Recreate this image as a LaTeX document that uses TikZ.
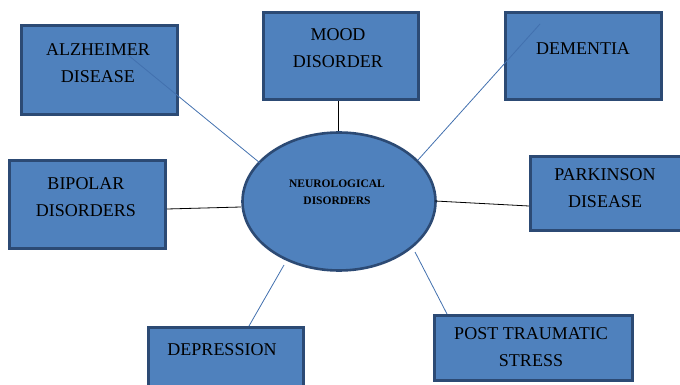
\documentclass[tikz,border=0pt]{standalone}
\usepackage{fontspec}
\setmainfont{Liberation Serif}
\usetikzlibrary{shapes.geometric}
\definecolor{boxfill}{RGB}{79,129,189}
\definecolor{boxline}{RGB}{44,74,116}
\definecolor{linkblue}{RGB}{66,112,174}
\begin{document}
\begin{tikzpicture}[x=1pt,y=-1pt,
  box/.style={draw=boxline, fill=boxfill, line width=2.6pt, rectangle, inner sep=0pt},
  hub/.style={draw=boxline, fill=boxfill, line width=2.6pt, ellipse, inner sep=0pt},
  lbl/.style={font=\fontsize{18}{27}\selectfont, align=center, anchor=north, inner sep=0pt},
  hublbl/.style={font=\fontsize{11.5}{17}\selectfont\bfseries, align=center, anchor=north, inner sep=0pt},
  bluelink/.style={draw=linkblue, line width=0.8pt},
  blacklink/.style={draw=black, line width=0.8pt}]
\useasboundingbox (0,0) rectangle (680,385);
\clip (0,0) rectangle (680,385);
% boxes
\node[box, minimum width=156pt, minimum height=89pt] (alz) at (99.5,70) {};
\node[box, minimum width=155pt, minimum height=87pt] (mood) at (341,56) {};
\node[box, minimum width=156pt, minimum height=87pt] (dem) at (583.5,56) {};
\node[box, minimum width=156pt, minimum height=88pt] (bip) at (87.5,204.5) {};
\node[box, minimum width=151pt, minimum height=74pt] (park) at (606,193.5) {};
\node[box, minimum width=155pt, minimum height=81pt] (dep) at (226,368) {};
\node[box, minimum width=198pt, minimum height=65pt] (post) at (533.5,348) {};
\node[hub, minimum width=193pt, minimum height=138pt] (neuro) at (339,201.5) {};
% labels
\node[lbl] (alzt) at (98,43) {ALZHEIMER\\DISEASE};
\node[lbl] (moodt) at (338,28) {MOOD\\DISORDER};
\node[lbl] (demt) at (583,42) {DEMENTIA};
\node[lbl] (bipt) at (86,177) {BIPOLAR\\DISORDERS};
\node[lbl] (parkt) at (605,168) {PARKINSON\\DISEASE};
\node[lbl] (dept) at (222,343) {DEPRESSION};
\node[lbl] (postt) at (531,327) {POST TRAUMATIC\\STRESS};
\node[hublbl] (neurot) at (337,180) {NEUROLOGICAL\\DISORDERS};
% connector end points
\coordinate (pa1) at (128,55);   \coordinate (pa2) at (260,163);
\coordinate (pd1) at (540,24);   \coordinate (pd2) at (418,160);
\coordinate (pb1) at (167,209);  \coordinate (pb2) at (241,207);
\coordinate (pp1) at (435,201);  \coordinate (pp2) at (529,206);
\coordinate (pe1) at (284,265);  \coordinate (pe2) at (249,326);
\coordinate (pt1) at (415,252);  \coordinate (pt2) at (447,314);
\coordinate (pm1) at (338,101);  \coordinate (pm2) at (338,131);
% connectors
\draw[bluelink] (pa1) -- (pa2);
\draw[bluelink] (pd1) -- (pd2);
\draw[blacklink] (pm1) -- (pm2);
\draw[blacklink] (pb1) -- (pb2);
\draw[blacklink] (pp1) -- (pp2);
\draw[bluelink] (pe1) -- (pe2);
\draw[bluelink] (pt1) -- (pt2);
\end{tikzpicture}
\end{document}
